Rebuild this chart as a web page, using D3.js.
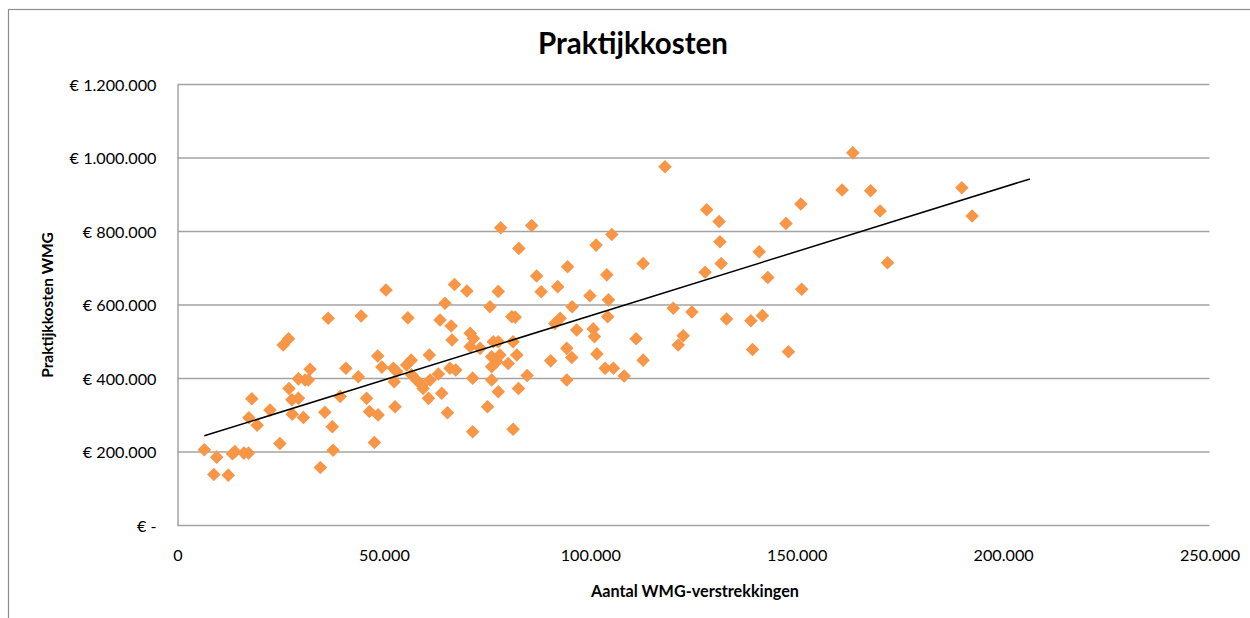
<!DOCTYPE html>
<meta charset="utf-8">
<script src="https://d3js.org/d3.v7.min.js"></script>
<style>
  body { margin: 0; background: #fff; }
  text { font-family: Lato, "Open Sans", sans-serif; fill: #000; }
</style>
<div id="chart"></div>
<script>

// values: WMG provisions vs practice costs (EUR)
var wmgCount = [
  6500, 9500, 8800, 12300, 13300, 13900, 16100, 17200, 18000, 17300,
  19300, 22400, 24800, 25600, 26900, 27000, 27700, 27800, 29300, 29300,
  30500, 30900, 31700, 32100, 36500, 35700, 37500, 34600, 37700, 39400,
  40800, 50500, 67100, 70100, 77700, 44500, 55800, 64800, 75700, 63600,
  66300, 81000, 81800, 66500, 70900, 71700, 70900, 73300, 76500, 77700,
  81300, 76100, 77300, 78100, 80100, 76100, 82200, 48500, 43800, 49500,
  52300, 53100, 55500, 56600, 61000, 52500, 56700, 57900, 59200, 59500,
  61200, 63200, 66000, 67400, 71500, 76100, 77700, 82600, 45800, 46500,
  48600, 52700, 60800, 64000, 65400, 75100, 71500, 81300, 47700, 78300,
  85800, 82700, 101400, 105200, 112800, 94500, 87000, 104000, 88100, 92100,
  99900, 104400, 95600, 92700, 91400, 104200, 120100, 124600, 96700, 100700,
  101000, 111100, 122500, 121300, 94300, 95500, 90400, 101600, 112800, 103600,
  105600, 108200, 84700, 94300, 163600, 161000, 151000, 147400, 128200, 131200,
  131400, 140900, 131700, 127800, 143000, 151200, 133000, 138900, 141700, 139300,
  148000, 167900, 170200, 190000, 192500, 172000, 118100
];
var practiceCost = [
  206000, 186000, 139000, 137000, 195000, 201000, 197000, 197000, 345000, 293000,
  273000, 314000, 223000, 491000, 508000, 373000, 342000, 303000, 399000, 346000,
  294000, 396000, 396000, 425000, 564000, 308000, 269000, 158000, 205000, 351000,
  428000, 641000, 656000, 638000, 637000, 570000, 565000, 605000, 595000, 559000,
  543000, 568000, 567000, 505000, 523000, 509000, 487000, 482000, 500000, 500000,
  500000, 459000, 446000, 464000, 441000, 432000, 464000, 461000, 405000, 431000,
  428000, 419000, 437000, 450000, 464000, 391000, 410000, 396000, 382000, 373000,
  396000, 412000, 428000, 423000, 401000, 396000, 364000, 373000, 346000, 310000,
  301000, 323000, 346000, 360000, 307000, 323000, 255000, 262000, 226000, 810000,
  816000, 754000, 763000, 792000, 713000, 704000, 679000, 682000, 636000, 650000,
  625000, 614000, 595000, 564000, 550000, 568000, 591000, 581000, 532000, 535000,
  514000, 508000, 516000, 491000, 482000, 457000, 448000, 467000, 450000, 428000,
  428000, 407000, 408000, 396000, 1014000, 913000, 875000, 822000, 859000, 827000,
  772000, 745000, 713000, 689000, 675000, 643000, 562000, 557000, 571000, 479000,
  473000, 911000, 856000, 919000, 842000, 715000, 976000
];

// linear trendline as drawn in the picture (start and end)
var trendX = [6500, 206500];
var trendY = [244000, 943000];

var xTicks = [0, 50000, 100000, 150000, 200000, 250000];
var yTicks = [0, 200000, 400000, 600000, 800000, 1000000, 1200000];

var nl = d3.formatLocale({decimal: ",", thousands: ".", grouping: [3], currency: ["€ ", ""]});
var fmtX = nl.format(",.0f");
var fmtY = function(v) { return v === 0 ? "€ -" : "€ " + nl.format(",.0f")(v); };

var W = 1250, H = 618;
var margin = {top: 84.5, right: 40.5, bottom: 92.5, left: 177.5},
    width = W - margin.left - margin.right,
    height = H - margin.top - margin.bottom;

var root = d3.select("#chart").append("svg")
    .attr("width", W)
    .attr("height", H);

// outer chart frame
root.append("rect")
    .attr("x", 8.5).attr("y", 9.5)
    .attr("width", 1300).attr("height", 700)
    .attr("fill", "none")
    .attr("stroke", "#8e8e8e")
    .attr("stroke-width", 1.2);

var svg = root.append("g")
    .attr("transform", "translate(" + margin.left + "," + margin.top + ")");

var x = d3.scaleLinear().domain([0, 250000]).range([0, width]);
var y = d3.scaleLinear().domain([0, 1200000]).range([height, 0]);

// horizontal gridlines
svg.append("g")
  .selectAll("line")
  .data(yTicks)
  .enter().append("line")
    .attr("x1", 0).attr("x2", width)
    .attr("y1", function(d) { return y(d); })
    .attr("y2", function(d) { return y(d); })
    .attr("stroke", "#a3a3a3")
    .attr("stroke-width", 1.5);

// y axis (line + labels)
var yAxis = svg.append("g")
    .call(d3.axisLeft(y).tickValues(yTicks).tickFormat(fmtY).tickSize(0).tickPadding(21));
yAxis.select(".domain").attr("stroke", "#a3a3a3").attr("stroke-width", 1.5);
yAxis.selectAll("text")
    .attr("font-family", "Lato, sans-serif")
    .attr("font-size", 16.2)
    .attr("dy", "0.35em");

// x axis labels only
var xAxis = svg.append("g")
    .attr("transform", "translate(0," + height + ")")
    .call(d3.axisBottom(x).tickValues(xTicks).tickFormat(fmtX).tickSize(0).tickPadding(24));
xAxis.select(".domain").remove();
xAxis.selectAll("text")
    .attr("font-family", "Lato, sans-serif")
    .attr("font-size", 16.2);

// points
var diamond = d3.symbol().type(d3.symbolSquare).size(92);
svg.append("g")
  .selectAll("path")
  .data(d3.range(wmgCount.length))
  .enter().append("path")
    .attr("d", diamond)
    .attr("transform", function(i) {
      return "translate(" + x(wmgCount[i]) + "," + y(practiceCost[i]) + ") rotate(45)";
    })
    .attr("fill", "#f79646");

// trendline
svg.append("path")
    .datum(d3.range(trendX.length))
    .attr("fill", "none")
    .attr("stroke", "#000")
    .attr("stroke-width", 1.5)
    .attr("d", d3.line()
      .x(function(i) { return x(trendX[i]); })
      .y(function(i) { return y(trendY[i]); }));

// title and axis titles
root.append("text")
    .attr("x", 633).attr("y", 54)
    .attr("text-anchor", "middle")
    .attr("font-size", 29.5)
    .attr("font-weight", "bold")
    .text("Praktijkkosten");

root.append("text")
    .attr("x", 695).attr("y", 597)
    .attr("text-anchor", "middle")
    .attr("font-size", 16.2)
    .attr("font-weight", "bold")
    .text("Aantal WMG-verstrekkingen");

root.append("text")
    .attr("transform", "translate(53,305) rotate(-90)")
    .attr("text-anchor", "middle")
    .attr("font-size", 15.5)
    .attr("font-weight", "bold")
    .text("Praktijkkosten WMG");

</script>
